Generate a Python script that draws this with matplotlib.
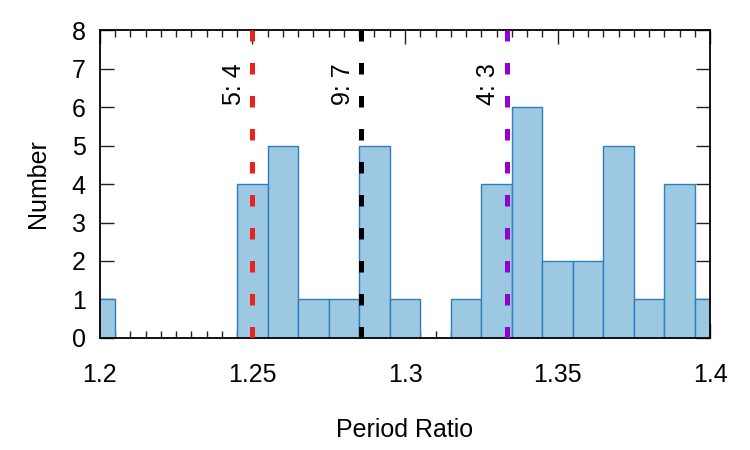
import matplotlib
matplotlib.use("Agg")
import matplotlib.pyplot as plt
from matplotlib.ticker import MultipleLocator

# histogram bin centres (width 0.01) and counts
centers = [1.20, 1.21, 1.22, 1.23, 1.24, 1.25, 1.26, 1.27, 1.28, 1.29, 1.30,
           1.31, 1.32, 1.33, 1.34, 1.35, 1.36, 1.37, 1.38, 1.39, 1.40]
counts = [1, 0, 0, 0, 0, 4, 5, 1, 1, 5, 1,
          0, 1, 4, 6, 2, 2, 5, 1, 4, 1]

# resonances
res_pos = [5 / 4, 9 / 7, 4 / 3]
res_lab = ["5: 4", "9: 7", "4: 3"]
res_col = ["#e8231b", "#000000", "#9400d3"]

plt.rcParams["font.family"] = ["Liberation Sans", "DejaVu Sans"]
plt.rcParams["font.size"] = 18

fig = plt.figure(figsize=(7.5, 4.5), dpi=100)
ax = fig.add_axes([0.133, 0.249, 0.814, 0.684])

ax.bar(centers, counts, width=0.01, color="#9dc8e2", edgecolor="#2a7fc0",
       linewidth=1, zorder=1)

for p, lab, c in zip(res_pos, res_lab, res_col):
    ax.axvline(p, color=c, linewidth=3.6, dashes=(2.3, 4.3), zorder=3)
    ax.text(p - 0.0022, 6.05, lab, rotation=90, ha="right", va="bottom",
            fontsize=18, zorder=4)

ax.set_xlim(1.2, 1.4)
ax.set_ylim(0, 8)
ax.xaxis.set_minor_locator(MultipleLocator(0.005))
ax.yaxis.set_major_locator(MultipleLocator(1))
ax.set_xticks([1.2, 1.25, 1.3, 1.35, 1.4])
ax.set_xticklabels(["1.2", "1.25", "1.3", "1.35", "1.4"])
ax.set_axisbelow(True)

ax.tick_params(axis="x", which="major", direction="in", length=10, width=1,
               color="#222222", top=True, pad=18)
ax.tick_params(axis="x", which="minor", direction="in", length=5, width=1,
               color="#222222", top=True)
ax.tick_params(axis="y", which="major", direction="in", length=10, width=1,
               color="#222222", right=True, pad=10)
for s in ax.spines.values():
    s.set_linewidth(1.3)

ax.set_xlabel("Period Ratio", labelpad=22)
ax.set_ylabel("Number", labelpad=16)

fig.savefig("out.png", dpi=100)
